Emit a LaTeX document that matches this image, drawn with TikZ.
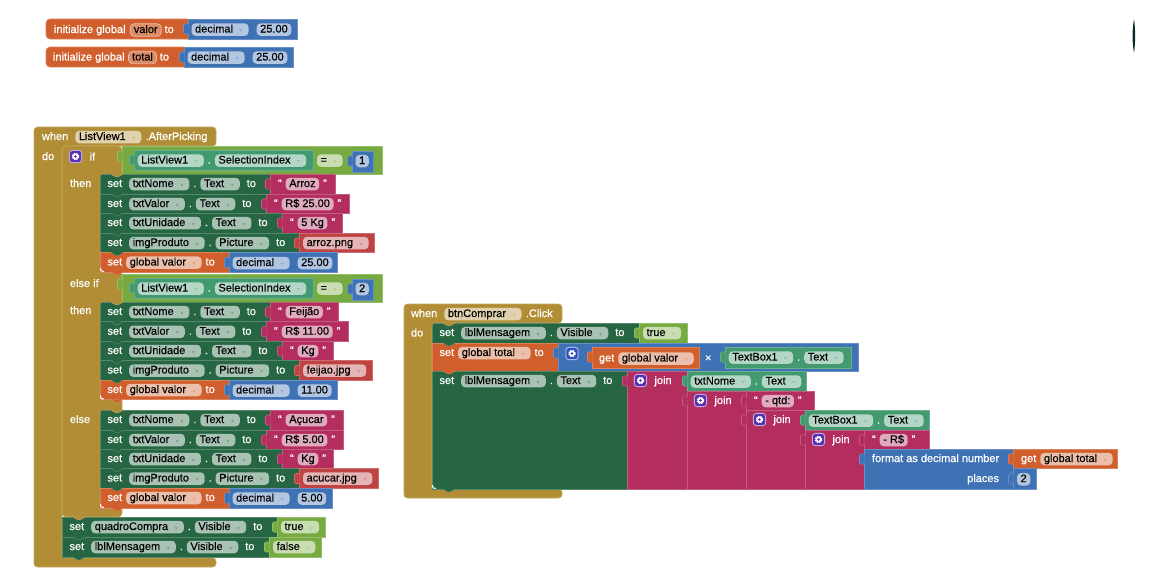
\documentclass[tikz,border=0pt]{standalone}
\usepackage{fontspec}
\setmainfont[RawFeature={embolden=0.12}]{Liberation Sans}
\newfontfamily\lblfont[RawFeature={embolden=0.7}]{Liberation Sans}
\newfontfamily\ddfont{DejaVu Sans}
\usetikzlibrary{positioning}
\definecolor{ctrlgold}{HTML}{B18E35}
\definecolor{setgrn}{HTML}{266643}
\definecolor{compteal}{HTML}{439970}
\definecolor{logicgrn}{HTML}{77AB41}
\definecolor{mathblue}{HTML}{3F71B5}
\definecolor{txtpink}{HTML}{B32D5E}
\definecolor{varor}{HTML}{D05F2D}
\definecolor{assetred}{HTML}{BF4343}
\definecolor{gearpurple}{HTML}{5B2DB0}
\definecolor{gearblue}{HTML}{2F50C0}
\definecolor{markdark}{HTML}{0B2A2E}

\tikzset{
  blk/.style={fill=#1,draw=#1!78!white,line width=.4pt},
  lbl/.style={text=white,inner sep=0pt,outer sep=0pt,font=\fontsize{8.25}{10}\lblfont},
  fld/.style={rectangle,rounded corners=3pt,fill=#1!40!white,text=black,inner xsep=2.7pt,inner ysep=.6pt,
    outer sep=0pt,text height=6.3pt,text depth=1.9pt},
  drop/.style={fld=#1,execute at end node={\hspace{4.4pt}\makebox[3.4pt]{\ddfont\fontsize{4.5}{5}\selectfont\textcolor{#1!60!white}{▾}}\hspace{1.2pt}}},
  varfld/.style={fld=#1,fill=#1!72!white,draw=#1!40!white,line width=.5pt},
  gearbox/.style={rectangle,rounded corners=2.2pt,fill=#1,draw=white!60!#1,line width=.7pt,minimum size=9.2pt,inner sep=0pt,outer sep=0pt},
}

% puzzle piece on the left edge of a value block
\newcommand{\valtab}[3]{\draw[blk=#1,rounded corners=1pt] (#2+.6,#3+5) -- (#2-4.5,#3+5) -- (#2-4.5,#3+15) -- (#2+.6,#3+15);}
% notch under a statement block
\newcommand{\bump}[3]{\draw[fill=#3,draw=#3!78!white,line width=.4pt] (#1+11,#2-.3) .. controls (#1+13,#2+.3) and (#1+13.5,#2+2.8) .. (#1+16,#2+2.8) -- (#1+18,#2+2.8) .. controls (#1+20.5,#2+2.8) and (#1+21,#2+.3) .. (#1+23,#2-.3);}
% rounded ends of a stack of statements
\newcommand{\stackends}[3]{
  \fill[ctrlgold] (#1-.3,#2-.3) -- (#1+4.5,#2-.3) .. controls (#1+1,#2) .. (#1-.3,#2+4.5) -- cycle;
  \draw[white,line width=.8pt] (#1+.4,#3-4) .. controls (#1+.6,#3-1) .. (#1+4,#3-.6);
}
\newcommand{\gear}[4]{
  \node[gearbox=#4] (#1) at (#2,#3) {};
  \draw[white,line width=1.2pt,dash pattern=on 1pt off .85pt] (#1) circle (2.3pt);
  \fill[white] (#1) circle (2.3pt);
  \fill[#4] (#1) circle (1pt);
}
\newcommand{\setrow}[7]{
  \draw[blk=setgrn] (#2,#3) rectangle (#5,#4);
  \node[lbl,anchor=base west] (#1set) at (#2+7.5,#3+13) {set};
  \node[drop=setgrn,base right=5.25pt of #1set] (#1comp) {#6};
  \node[lbl,base right=3pt of #1comp] (#1dot) {.};
  \node[drop=setgrn,base right=3pt of #1dot] (#1prop) {#7};
  \node[lbl,base right=5.25pt of #1prop] (#1to) {to};
}
\newcommand{\varset}[6]{
  \draw[blk=varor] (#2,#3) rectangle (#5,#4);
  \node[lbl,anchor=base west] (#1set) at (#2+7.5,#3+13) {set};
  \node[drop=varor,base right=3pt of #1set] (#1var) {#6};
  \node[lbl,base right=3pt of #1var] (#1to) {to};
}
\newcommand{\txtval}[6]{
  \draw[blk=txtpink] (#2,#3) rectangle (#4,#5);
  \valtab{txtpink}{#2}{#3}
  \node[lbl,anchor=base west] (#1ql) at (#2+8,#3+13) {“};
  \node[fld=txtpink,base right=3pt of #1ql] (#1val) {#6};
  \node[lbl,base right=3pt of #1val] (#1qr) {”};
}
\newcommand{\listval}[7]{
  \draw[blk=#7] (#2,#3) rectangle (#4,#5);
  \valtab{#7}{#2}{#3}
  \node[drop=#7,anchor=base west] (#1val) at (#2+4,#3+13) {#6};
}
\newcommand{\numval}[6]{
  \draw[blk=mathblue] (#2,#3) rectangle (#4,#5);
  \valtab{mathblue}{#2}{#3}
  \node[drop=mathblue,anchor=base west] (#1dec) at (#2+3.5,#3+13.5) {decimal};
  \node[fld=mathblue,base right=6pt of #1dec] (#1num) {#6};
}
\newcommand{\getcomp}[7]{
  \draw[blk=compteal] (#2,#3) rectangle (#4,#5);
  \valtab{compteal}{#2}{#3}
  \node[drop=compteal,anchor=base west] (#1comp) at (#2+3.7,#3+13.5) {#6};
  \node[lbl,base right=3pt of #1comp] (#1dot) {.};
  \node[drop=compteal,base right=3pt of #1dot] (#1prop) {#7};
}
\newcommand{\testrow}[3]{
  \draw[blk=logicgrn] (122,#2) rectangle (382,#2+28);
  \valtab{logicgrn}{122}{#2}
  \getcomp{#1c}{134}{#2+4}{313}{#2+24}{ListView1}{SelectionIndex}
  \node[drop=logicgrn,anchor=base west] (#1eq) at (317,#2+17.5) {=};
  \draw[blk=mathblue] (352,#2+5) rectangle (373,#2+26);
  \valtab{mathblue}{352}{#2+5}
  \node[fld=mathblue,anchor=base west] (#1num) at (355.5,#2+18) {#3};
}
\newcommand{\joinblk}[5]{
  \draw[blk=txtpink] (#2,#3) rectangle (#4,#5);
  \valtab{txtpink}{#2}{#3}
  \gear{#1g}{#2+13.5}{#3+9.5}{gearpurple}
  \node[lbl,anchor=base west] (#1t) at (#2+27.5,#3+13) {join};
}

\begin{document}
\begin{tikzpicture}[x=.75pt,y=-.75pt,font=\fontsize{8.25}{10}\selectfont]
\useasboundingbox (0,0) rectangle (1152,583);

% globals
\draw[blk=varor,rounded corners=3pt] (46,19) rectangle (192,39);
\node[lbl,anchor=base west] (inita) at (54,33) {initialize global};
\node[varfld=varor,base right=3.5pt of inita] (initaname) {valor};
\node[lbl,base right=2.5pt of initaname] (initato) {to};
\numval{inital}{188}{19}{297}{39}{25.00}
\draw[blk=varor,rounded corners=3pt] (46,47) rectangle (188,67);
\node[lbl,anchor=base west] (initb) at (53,60.5) {initialize global};
\node[varfld=varor,base right=3pt of initb] (initbname) {total};
\node[lbl,base right=2.5pt of initbname] (initbto) {to};
\numval{initbl}{184}{47}{293}{67}{25.00}

% mark at the top right
\fill[markdark] (1134,19) .. controls (1132,30) and (1132,42) .. (1134,53) .. controls (1135.5,42) and (1135.5,30) .. (1134,19) -- cycle;

% when ListView1
\draw[blk=ctrlgold,rounded corners=2.5pt] (34,127) -- (216,127) -- (216,146) -- (62,146) -- (62,558) -- (216,558) -- (216,567) -- (34,567) -- cycle;
\node[lbl,anchor=base west] (pickwhen) at (42,140) {when};
\node[drop=ctrlgold,base right=5.25pt of pickwhen] (pickcomp) {ListView1};
\node[lbl,base right=3.2pt of pickcomp] (pickevent) {.AfterPicking};
\node[lbl,anchor=base west] (pickdo) at (42,160) {do};

% if
\draw[blk=ctrlgold,rounded corners=3pt] (62,146) -- (122,146) -- (122,517) -- (62,517) -- cycle;
\gear{ifgear}{75.5}{156.5}{gearpurple}
\node[lbl,right=6pt of ifgear] (iflbl) {if};
\node[lbl,anchor=base west] (ifthen) at (70,187) {then};
\node[lbl,anchor=base west] (ifelseif) at (70,287) {else if};
\node[lbl,anchor=base west] (ifthenb) at (70,314) {then};
\node[lbl,anchor=base west] (ifelse) at (70,423) {else};

\testrow{ta}{146}{1}
\testrow{tb}{274}{2}

% text rows of the three branches
\foreach \rid/\ya/\yb/\xe/\comp/\txt/\xv in {
  a/174/194/270/txtNome/Arroz/335,
  b/194/213/266/txtValor/R\$ 25.00/349,
  c/213/233/282/txtUnidade/5 Kg/342,
  f/302/321.7/270/txtNome/Feijão/338,
  g/321.7/341/266/txtValor/R\$ 11.00/348,
  h/341/360.5/282/txtUnidade/Kg/333,
  m/410/430/270/txtNome/Açucar/343,
  n/430/449/266/txtValor/R\$ 5.00/343,
  o/449/468.5/282/txtUnidade/Kg/333}{
  \setrow{\rid}{100}{\ya}{\yb}{\xe}{\comp}{Text}
  \txtval{\rid v}{\xe}{\ya}{\xv}{\yb}{\txt}
}
% picture rows
\foreach \rid/\ya/\yb/\txt/\xv in {
  d/233/252.5/arroz.png/374,
  i/360.5/380/feijao.jpg/372,
  p/468.5/488/acucar.jpg/378}{
  \setrow{\rid}{100}{\ya}{\yb}{299}{imgProduto}{Picture}
  \listval{\rid v}{299}{\ya}{\xv}{\yb}{\txt}{assetred}
}
% global valor rows
\foreach \rid/\ya/\yb/\val/\xv in {
  e/252.5/272/25.00/337,
  j/380/399.6/11.00/337,
  q/488/508/5.00/332}{
  \varset{\rid}{100}{\ya}{\yb}{229}{global valor}
  \numval{\rid v}{229}{\ya}{\xv}{\yb}{\val}
}
\stackends{100}{174}{272}
\stackends{100}{302}{399.6}
\stackends{100}{410}{508}

\setrow{vq}{62}{517}{537}{277}{quadroCompra}{Visible}
\listval{vqv}{277}{517}{325}{537}{true}{logicgrn}
\setrow{vm}{62}{537}{557}{269}{lblMensagem}{Visible}
\listval{vmv}{269}{537}{321}{557}{false}{logicgrn}

% when btnComprar
\draw[blk=ctrlgold,rounded corners=2.5pt] (404,304) -- (562,304) -- (562,323) -- (432,323) -- (432,489) -- (562,489) -- (562,498) -- (404,498) -- cycle;
\node[lbl,anchor=base west] (clickwhen) at (411,317) {when};
\node[drop=ctrlgold,base right=5.25pt of clickwhen] (clickcomp) {btnComprar};
\node[lbl,base right=3.2pt of clickcomp] (clickevent) {.Click};
\node[lbl,anchor=base west] (clickdo) at (411,336.5) {do};

\setrow{ra}{432}{323}{343}{639}{lblMensagem}{Visible}
\listval{rav}{639}{323}{687}{343}{true}{logicgrn}

\varset{rb}{432}{343}{371}{558}{global total}
\draw[blk=mathblue] (558,343) rectangle (858,371);
\valtab{mathblue}{558}{343}
\gear{rbgear}{572}{353.5}{gearblue}
\draw[blk=varor] (592,347) rectangle (699,368);
\valtab{varor}{592}{347}
\node[lbl,anchor=base west] (rbget) at (599,361.5) {get};
\node[drop=varor,base right=3pt of rbget] (rbvar) {global valor};
\node[lbl,anchor=base west] (rbtimes) at (705,361.5) {×};
\getcomp{rbc}{725}{347}{851}{368}{TextBox1}{Text}

\setrow{rc}{432}{371}{489}{627}{lblMensagem}{Text}
\joinblk{ja}{627}{371}{687}{489}
\getcomp{ca}{687}{371}{806}{391}{txtNome}{Text}
\joinblk{jb}{687}{391}{746}{489}
\txtval{qa}{746}{391}{814}{410}{- qtd:}
\joinblk{jc}{746}{410}{805}{489}
\getcomp{cb}{805}{410}{929}{430}{TextBox1}{Text}
\joinblk{jd}{805}{430}{864}{489}
\txtval{qb}{864}{430}{929}{449}{- R\$}

\draw[blk=mathblue] (864,449) rectangle (1013,489);
\valtab{mathblue}{864}{449}
\node[lbl,anchor=base west] (fmt) at (872,462) {format as decimal number};
\node[lbl,anchor=base east] (fmtplaces) at (999,482) {places};
\draw[blk=varor] (1013,449) rectangle (1117,468.7);
\valtab{varor}{1013}{449}
\node[lbl,anchor=base west] (fmtget) at (1021,462) {get};
\node[drop=varor,base right=3pt of fmtget] (fmtvar) {global total};
\draw[blk=mathblue] (1013,468.7) rectangle (1036,489);
\valtab{mathblue}{1013}{468.7}
\node[fld=mathblue,anchor=base west] (fmtnum) at (1017,482.2) {2};
\stackends{432}{323}{489}

% notches
\foreach \x/\y/\c in {
  100/174/ctrlgold,100/194/setgrn,100/213/setgrn,100/233/setgrn,100/252.5/setgrn,100/272/varor,
  100/302/ctrlgold,100/321.7/setgrn,100/341/setgrn,100/360.5/setgrn,100/380/setgrn,100/399.6/varor,
  100/410/ctrlgold,100/430/setgrn,100/449/setgrn,100/468.5/setgrn,100/488/setgrn,100/508/varor,
  62/517/ctrlgold,62/537/setgrn,62/557/setgrn,
  432/323/ctrlgold,432/343/setgrn,432/371/varor,432/489/setgrn}{
  \bump{\x}{\y}{\c}
}
\end{tikzpicture}
\end{document}
